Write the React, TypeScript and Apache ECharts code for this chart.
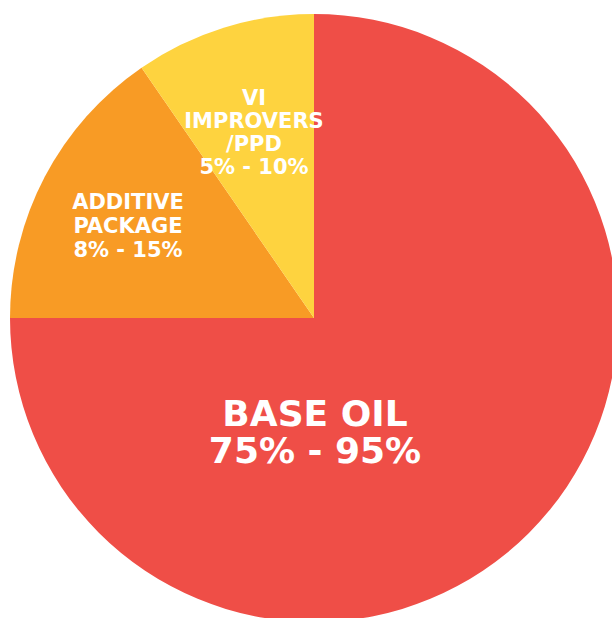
import React, { useEffect, useRef } from "react";
import * as echarts from "echarts";

const categories = ["BASE OIL", "ADDITIVE\nPACKAGE", "VI\nIMPROVERS\n/PPD"];
const rangeLabels = ["75% - 95%", "8% - 15%", "5% - 10%"];
const shares = [75, 15.4, 9.6];
const colors = ["#ef4e47", "#f89b25", "#fed33f"];

export default function App() {
  const ref = useRef<HTMLDivElement>(null);
  useEffect(() => {
    if (!ref.current) return;
    const chart = echarts.init(ref.current, null, { renderer: "svg" });
    const labelPos = [
      { x: 315, y: 432, size: 36, lh: 37 },
      { x: 128, y: 226, size: 21, lh: 24 },
      { x: 254, y: 132, size: 21, lh: 23 },
    ];
    chart.setOption({
      animation: false,
      series: [
        {
          type: "pie",
          center: [314, 318],
          radius: 304,
          startAngle: 90,
          clockwise: true,
          silent: true,
          data: categories.map((c, i) => ({
            name: c,
            value: shares[i],
            itemStyle: { color: colors[i] },
            label: {
              fontSize: labelPos[i].size,
              lineHeight: labelPos[i].lh,
            },
          })),
          label: {
            show: true,
            position: "inside",
            color: "#ffffff",
            fontFamily: "DejaVu Sans",
            fontWeight: "bold",
            align: "center",
            formatter: (p: any) => p.name + "\n" + rangeLabels[p.dataIndex],
          },
          labelLine: { show: false },
          labelLayout: (p: any) => ({
            x: labelPos[p.dataIndex].x,
            y: labelPos[p.dataIndex].y,
            align: "center",
            verticalAlign: "middle",
          }),
        },
      ],
    });
    return () => chart.dispose();
  }, []);
  return (
    <div
      ref={ref}
      style={{ position: "fixed", left: 0, top: 0, width: 612, height: 618, background: "#ffffff" }}
    />
  );
}
